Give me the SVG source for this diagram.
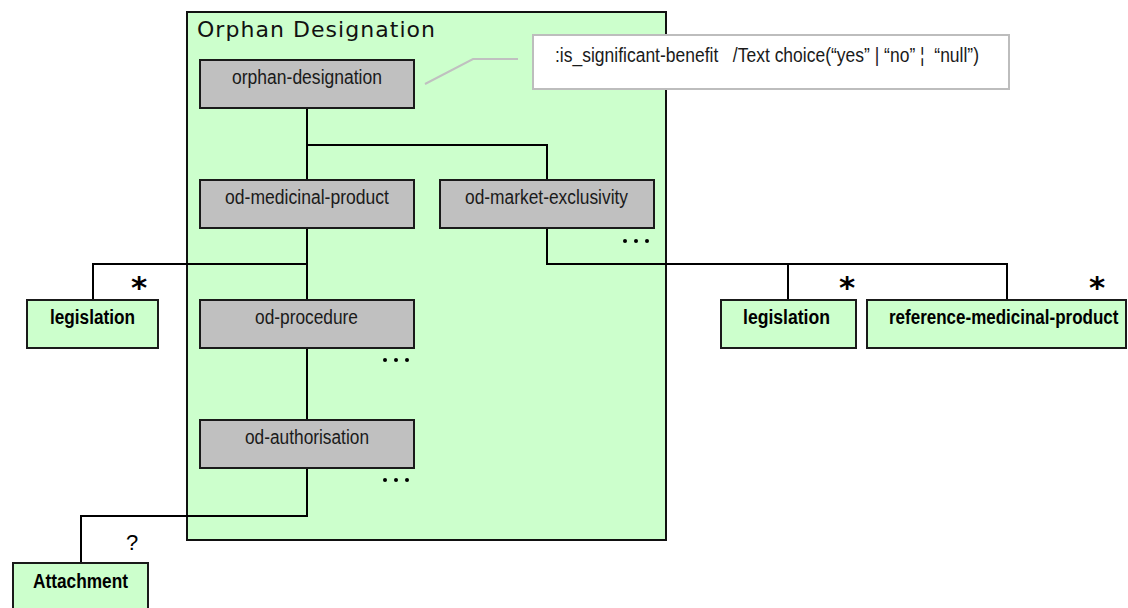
<svg xmlns="http://www.w3.org/2000/svg" width="1128" height="608" viewBox="0 0 1128 608">
<style>
.cont{fill:#CCFFCC;stroke:#111;stroke-width:2}
.el{fill:#C0C0C0;stroke:#1a1a1a;stroke-width:2}
.ref{fill:#CCFFCC;stroke:#1a1a1a;stroke-width:2}
.lbl{font-family:"Liberation Sans",Arial,sans-serif;font-size:20px;fill:#1a1a1a}
.bold{font-weight:bold;fill:#000}
.title{font-family:"DejaVu Sans",Verdana,sans-serif;font-size:22px;fill:#111}
.conn{fill:none;stroke:#000;stroke-width:2}
.card{font-family:"DejaVu Sans",Verdana,sans-serif;font-weight:bold;fill:#000}
.q{font-family:"Liberation Sans",Arial,sans-serif;fill:#000}
.dot{fill:#000}
.note{fill:#fff;stroke:#BDBDBD;stroke-width:2}
.noteline{fill:none;stroke:#C0C0C0;stroke-width:2}
</style>
<rect x="0" y="0" width="1128" height="608" fill="#fff"/>
<g id="container-orphan-designation">
<rect class="cont" x="187" y="12" width="479" height="528"/>
<text class="title" x="197" y="37" textLength="238" lengthAdjust="spacing">Orphan Designation</text>
</g>
<g id="connectors">
<path class="conn" d="M307,108 V180"/>
<path class="conn" d="M307,145 H547 V180"/>
<path class="conn" d="M307,228 V300"/>
<path class="conn" d="M307,264 H93 V300"/>
<path class="conn" d="M547,228 V264 H1007 V300"/>
<path class="conn" d="M788,264 V300"/>
<path class="conn" d="M307,348 V420"/>
<path class="conn" d="M307,468 V516 H81 V563"/>
<polyline class="noteline" points="425,84 473,59 518,59"/>
<text class="card" x="139" y="298" font-size="31" text-anchor="middle">*</text>
<text class="card" x="847" y="298" font-size="31" text-anchor="middle">*</text>
<text class="card" x="1097" y="298" font-size="31" text-anchor="middle">*</text>
<text class="q" x="132" y="550" font-size="22" text-anchor="middle">?</text>
</g>
<g id="note">
<rect class="note" x="533" y="35" width="476" height="54"/>
<text class="lbl" x="555" y="62" textLength="424" lengthAdjust="spacingAndGlyphs" xml:space="preserve">:is_significant-benefit   /Text choice(“yes” | “no” ¦  “null”)</text>
</g>
<g id="orphan-designation">
<rect class="el" x="200" y="60" width="214" height="48"/>
<text class="lbl" x="232" y="84" textLength="150" lengthAdjust="spacingAndGlyphs">orphan-designation</text>
</g>
<g id="od-medicinal-product">
<rect class="el" x="200" y="180" width="214" height="48"/>
<text class="lbl" x="225" y="204" textLength="164" lengthAdjust="spacingAndGlyphs">od-medicinal-product</text>
</g>
<g id="od-market-exclusivity">
<rect class="el" x="440" y="180" width="214" height="48"/>
<text class="lbl" x="465" y="204" textLength="163" lengthAdjust="spacingAndGlyphs">od-market-exclusivity</text>
<circle class="dot" cx="625" cy="241" r="2"/>
<circle class="dot" cx="636" cy="241" r="2"/>
<circle class="dot" cx="647" cy="241" r="2"/>
</g>
<g id="od-procedure">
<rect class="el" x="200" y="300" width="214" height="48"/>
<text class="lbl" x="255" y="324" textLength="103" lengthAdjust="spacingAndGlyphs">od-procedure</text>
<circle class="dot" cx="385" cy="360" r="2"/>
<circle class="dot" cx="396" cy="360" r="2"/>
<circle class="dot" cx="407" cy="360" r="2"/>
</g>
<g id="od-authorisation">
<rect class="el" x="200" y="420" width="214" height="48"/>
<text class="lbl" x="245" y="444" textLength="124" lengthAdjust="spacingAndGlyphs">od-authorisation</text>
<circle class="dot" cx="385" cy="480" r="2"/>
<circle class="dot" cx="396" cy="480" r="2"/>
<circle class="dot" cx="407" cy="480" r="2"/>
</g>
<g id="legislation-left">
<rect class="ref" x="27" y="300" width="131" height="48"/>
<text class="lbl bold" x="50" y="324" textLength="85" lengthAdjust="spacingAndGlyphs">legislation</text>
</g>
<g id="legislation-right">
<rect class="ref" x="721" y="300" width="135" height="48"/>
<text class="lbl bold" x="743" y="324" textLength="87" lengthAdjust="spacingAndGlyphs">legislation</text>
</g>
<g id="reference-medicinal-product">
<rect class="ref" x="867" y="300" width="259" height="48"/>
<text class="lbl bold" transform="translate(889,324) scale(0.85,1)" x="0" y="0">reference-medicinal-product</text>
</g>
<g id="attachment">
<rect class="ref" x="13" y="563" width="135" height="50"/>
<text class="lbl bold" x="33" y="588" textLength="95" lengthAdjust="spacingAndGlyphs">Attachment</text>
</g>
</svg>
